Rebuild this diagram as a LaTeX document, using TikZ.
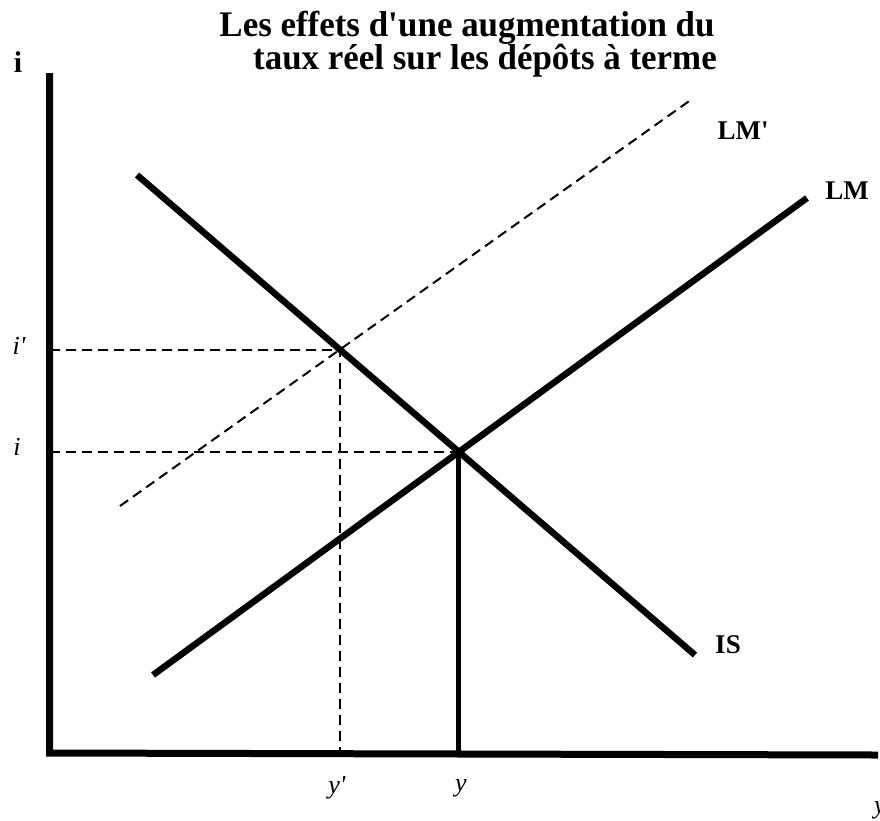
\documentclass[tikz,border=0pt]{standalone}
\usepackage{fontspec}
\setmainfont{Liberation Serif}
\newfontfamily\titlefont{Liberation Serif}[FakeStretch=0.97]
\begin{document}
\begin{tikzpicture}[x=1pt,y=-1pt,
  axisline/.style={line width=7pt},
  curveline/.style={line width=6.5pt},
  guideline/.style={line width=2pt, dash pattern=on 10pt off 6pt},
  titletext/.style={font=\titlefont\bfseries\fontsize{36}{36}\selectfont, inner sep=0pt},
  curvelabel/.style={font=\bfseries\fontsize{27}{27}\selectfont, inner sep=0pt},
  ticklabel/.style={font=\itshape\fontsize{26}{26}\selectfont, inner sep=0pt}]
\useasboundingbox (0,0) rectangle (880,820);
% axes
\coordinate (O) at (49.5,753);
\coordinate (Ytop) at (49.5,73);
\coordinate (Xend) at (878,755);
\draw[axisline] (Ytop) -- (O) -- (Xend);
% curves
\coordinate (LMa) at (153,675);
\coordinate (LMb) at (807,198);
\coordinate (LMpa) at (120,506);
\coordinate (LMpb) at (692,99);
\coordinate (ISa) at (137,175);
\coordinate (ISb) at (695,655);
\coordinate (E) at (intersection of LMa--LMb and ISa--ISb);
\coordinate (Ep) at (intersection of LMpa--LMpb and ISa--ISb);
\coordinate (Ex) at (O -| E);
\coordinate (Epx) at (O -| Ep);
\coordinate (Ey) at (O |- E);
\coordinate (Epy) at (O |- Ep);
\draw[guideline] (LMpa) -- (LMpb);
\draw[guideline] (Epy) -- (Ep) -- (Epx);
\draw[guideline] (Ey) -- (E);
\draw[curveline] (LMa) -- (LMb);
\draw[curveline] (ISa) -- (ISb);
\draw[axisline, line width=5pt] (E) -- (Ex);
% labels
\node[titletext, anchor=base] (t1) at (467,36) {Les effets d\textquotesingle une augmentation du};
\node[titletext, anchor=base] (t2) at (485,69) {taux réel sur les dépôts à terme};
\node[font=\bfseries\fontsize{30}{30}\selectfont, inner sep=0pt] (ilab) at (18,62) {i};
\node[curvelabel] (lmplab) at (743,131) {LM\textquotesingle};
\node[curvelabel] (lmlab) at (847,191) {LM};
\node[curvelabel] (islab) at (728,645) {IS};
\node[ticklabel] (iplab) at (19,346) {i\textquotesingle};
\node[ticklabel] (ilab2) at (17,447) {i};
\node[ticklabel] (yplab) at (337,788) {y\textquotesingle};
\node[ticklabel] (ylab) at (461,788) {y};
\begin{scope}
\clip (0,0) rectangle (880,820);
\node[ticklabel, anchor=west] (ylab2) at (874,810) {y};
\end{scope}
\end{tikzpicture}
\end{document}
